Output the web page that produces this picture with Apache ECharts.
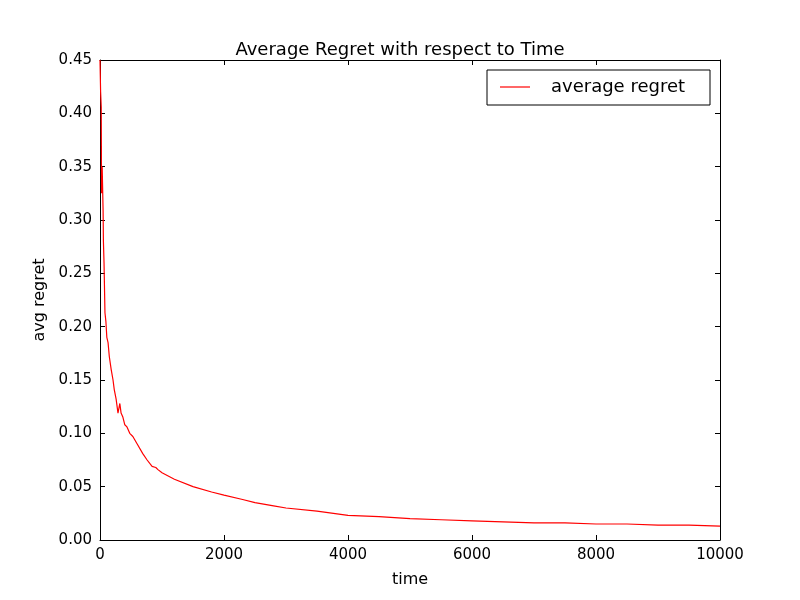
<!DOCTYPE html>
<html><head><meta charset="utf-8">
<script src="https://cdn.jsdelivr.net/npm/echarts@6/dist/echarts.min.js"></script>
<style>html,body{margin:0;padding:0;background:#fff}#c{width:800px;height:600px}</style>
</head><body><div id="c"></div>
<script>
const times = [0,10,20,25,35,50,55,65,80,95,110,130,150,180,210,230,260,290,320,340,370,400,435,480,530,600,690,760,840,900,935,1000,1200,1500,1800,2000,2300,2500,2800,3000,3500,4000,4500,5000,5500,6000,6500,7000,7500,8000,8500,9000,9500,10000];
const regret = [0.45,0.42,0.406,0.325,0.35,0.309,0.28,0.26,0.213,0.205,0.19,0.185,0.172,0.16,0.15,0.141,0.132,0.119,0.128,0.119,0.115,0.108,0.106,0.1,0.097,0.09,0.081,0.075,0.069,0.068,0.066,0.063,0.057,0.05,0.045,0.042,0.038,0.035,0.032,0.030,0.027,0.023,0.022,0.020,0.019,0.018,0.017,0.016,0.016,0.015,0.015,0.014,0.014,0.013];
const xTicks = [0,2000,4000,6000,8000,10000];
const data = times.map((t,i)=>[t,regret[i]]);
const font = 'DejaVu Sans';
const ax = () => ({
  axisLine:{show:true,onZero:false,lineStyle:{color:'#000',width:1}},
  axisTick:{show:true,inside:true,length:5,lineStyle:{color:'#000'}},
  splitLine:{show:false}
});
const chart = echarts.init(document.getElementById('c'));
chart.setOption({
  animation:false,
  title:{text:'Average Regret with respect to Time',left:'center',top:36,textStyle:{fontFamily:font,fontSize:18,fontWeight:'normal',color:'#000'}},
  grid:{left:100,right:80,top:60,bottom:60},
  legend:{show:false},
  xAxis:[
    Object.assign({type:'value',min:0,max:10000,interval:2000,name:'time',nameLocation:'middle',nameGap:32,
      nameTextStyle:{fontFamily:font,fontSize:16,color:'#000'},
      axisLabel:{fontFamily:font,fontSize:15,color:'#000',margin:8,formatter:v=>String(v)}},ax()),
    Object.assign({type:'value',min:0,max:10000,interval:2000,position:'top',axisLabel:{show:false}},ax())
  ],
  yAxis:[
    Object.assign({type:'value',min:0,max:0.45,interval:0.05,name:'avg regret',nameLocation:'middle',nameGap:52,
      nameTextStyle:{fontFamily:font,fontSize:16,color:'#000'},
      axisLabel:{fontFamily:font,fontSize:15,color:'#000',margin:8,formatter:v=>v.toFixed(2)}},ax()),
    Object.assign({type:'value',min:0,max:0.45,interval:0.05,position:'right',axisLabel:{show:false}},ax())
  ],
  series:[{name:'average regret',type:'line',data:data,showSymbol:false,lineStyle:{color:'#ff0000',width:1.2},clip:true}],
  graphic:[
    {type:'rect',shape:{x:487,y:70,width:223,height:35},style:{fill:'#fff',stroke:'#000',lineWidth:1}},
    {type:'line',shape:{x1:500,y1:87,x2:530,y2:87},style:{stroke:'#ff0000',lineWidth:1.2}},
    {type:'text',style:{x:551,y:87,text:'average regret',font:'18px DejaVu Sans',fill:'#000',textVerticalAlign:'middle'}}
  ]
});
</script></body></html>
